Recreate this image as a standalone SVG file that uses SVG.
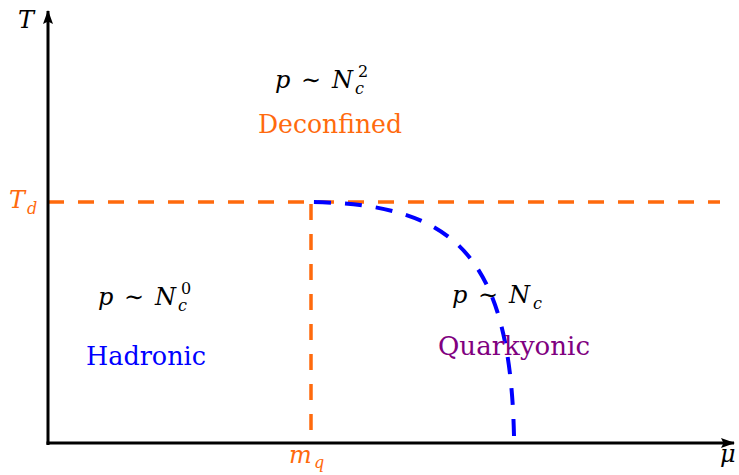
<svg xmlns="http://www.w3.org/2000/svg" width="739" height="475" viewBox="0 0 739 475">
<defs>
<marker id="arr" viewBox="0 0 14 10" refX="13" refY="5" markerWidth="14" markerHeight="10" markerUnits="userSpaceOnUse" orient="auto">
<path d="M0,0 L14,5 L0,10 L2.5,5 Z" fill="#000"/>
</marker>
<style>
.ax{stroke:#000;stroke-width:3;fill:none}
.od{stroke:#ff6a0d;stroke-width:3.5;fill:none;stroke-dasharray:16 14}
.bd{stroke:#0000ff;stroke-width:4;fill:none;stroke-dasharray:17 14}
.m{font-size:24px;fill:#000}
.i{font-style:italic}
.s{font-size:16px}
.w{font-size:26px}
</style>
</defs>
<g id="connectors">
<line class="od" x1="48" y1="202" x2="720" y2="202"/>
<line class="od" x1="311" y1="204" x2="311" y2="440"/>
<path class="bd" d="M514,436 C510,250 450,204 311,202"/>
<line class="ax" x1="48" y1="445" x2="48" y2="11" marker-end="url(#arr)"/>
<line class="ax" x1="46.5" y1="443" x2="734" y2="443" marker-end="url(#arr)"/>
</g>
<g id="axis-labels" font-family="DejaVu Serif, Liberation Serif, Times New Roman, serif">
<text class="m i" x="18" y="28">T</text>
<text class="m i" x="9" y="208" style="fill:#ff6a0d">T<tspan class="s" x="27" y="214">d</tspan></text>
<text class="m i" x="289" y="463" style="fill:#ff6a0d">m<tspan class="s" x="314" y="468">q</tspan></text>
<text class="m i" x="720" y="462">μ</text>
</g>
<g id="deconfined" font-family="DejaVu Serif, Liberation Serif, Times New Roman, serif">
<text class="m"><tspan class="i" x="275" y="88">p</tspan><tspan x="301" y="88">∼</tspan><tspan class="i" x="332" y="88">N</tspan><tspan class="s i" x="355" y="94">c</tspan><tspan class="s" x="358" y="77">2</tspan></text>
<text class="w" x="258" y="133" fill="#ff6a0d" textLength="144" lengthAdjust="spacingAndGlyphs">Deconfined</text>
</g>
<g id="hadronic" font-family="DejaVu Serif, Liberation Serif, Times New Roman, serif">
<text class="m"><tspan class="i" x="98" y="305">p</tspan><tspan x="124" y="305">∼</tspan><tspan class="i" x="155" y="305">N</tspan><tspan class="s i" x="178" y="311">c</tspan><tspan class="s" x="181" y="294">0</tspan></text>
<text class="w" x="86" y="365" fill="#0000ff" textLength="120" lengthAdjust="spacingAndGlyphs">Hadronic</text>
</g>
<g id="quarkyonic" font-family="DejaVu Serif, Liberation Serif, Times New Roman, serif">
<text class="m"><tspan class="i" x="452" y="303">p</tspan><tspan x="478" y="303">∼</tspan><tspan class="i" x="509" y="303">N</tspan><tspan class="s i" x="533" y="309">c</tspan></text>
<text class="w" x="438" y="355" fill="#800080" textLength="152" lengthAdjust="spacingAndGlyphs">Quarkyonic</text>
</g>
</svg>
